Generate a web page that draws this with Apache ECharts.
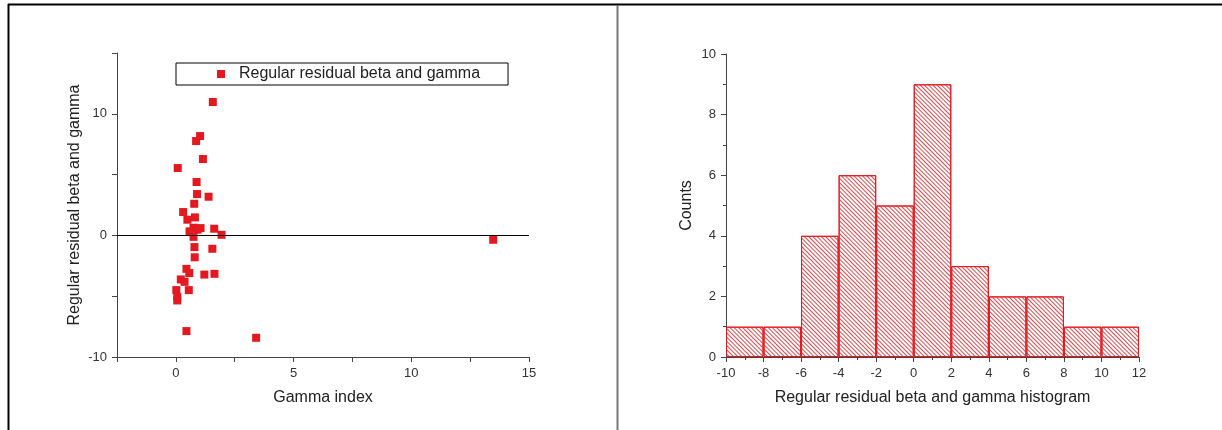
<!DOCTYPE html>
<html>
<head>
<meta charset="utf-8">
<title>Regular residual beta and gamma</title>
<script src="https://cdn.jsdelivr.net/npm/echarts@6/dist/echarts.min.js"></script>
<style>
html, body { margin : 0; padding : 0; background : #fff; }
#chart { width : 1222px; height : 430px; }
</style>
</head>
<body>
<div id="chart"></div>
<script>
// scatter: gamma index vs regular residual
var gammaIndex = [ 1.57, 1.03, 0.86, 1.15, 0.08, 0.88, 0.90, 1.39, 0.78, 0.31,
		0.81, 0.49, 0.75, 1.05, 0.92, 0.58, 1.63, 1.94, 0.75, 0.79, 1.55, 0.80,
		0.45, 0.57, 1.21, 1.64, 0.21, 0.37, 0.55, 0.02, 0.06, 0.06, 0.45, 3.41,
		13.48 ];
var residual = [ 10.97, 8.17, 7.76, 6.28, 5.54, 4.39, 3.40, 3.18, 2.60, 1.92,
		1.48, 1.29, 0.63, 0.60, 0.47, 0.33, 0.55, 0.05, -0.12, -0.96, -1.10,
		-1.80, -2.75, -3.10, -3.22, -3.16, -3.62, -3.82, -4.50, -4.50, -5.05,
		-5.35, -7.87, -8.42, -0.36 ];

// histogram bins (width 2, from -10 to 12)
var binNames = [ '-10~-8', '-8~-6', '-6~-4', '-4~-2', '-2~0', '0~2', '2~4',
		'4~6', '6~8', '8~10', '10~12' ];
var binCounts = [ 1, 1, 4, 6, 5, 9, 3, 2, 2, 1, 1 ];

var seriesName = 'Regular residual beta and gamma';
var red = '#e3191f';
var font = 'Liberation Sans, Arial, sans-serif';

var points = gammaIndex.map(function(x, i) {
	return [ x, residual[i] ];
});

function axisBase() {
	return {
		axisLine : {
			onZero : false,
			lineStyle : {
				color : '#444',
				width : 1
			}
		},
		axisTick : {
			length : 5,
			lineStyle : {
				color : '#444'
			}
		},
		splitLine : {
			show : false
		},
		axisLabel : {
			color : '#333',
			fontSize : 13,
			fontFamily : font,
			margin : 10
		},
		nameLocation : 'middle',
		nameTextStyle : {
			color : '#222',
			fontSize : 16,
			fontFamily : font
		}
	};
}

var xScatter = axisBase();
xScatter.gridIndex = 0;
xScatter.type = 'value';
xScatter.min = -2.5;
xScatter.max = 15;
xScatter.interval = 2.5;
xScatter.name = 'Gamma index';
xScatter.nameGap = 33;
xScatter.axisLabel.formatter = function(v) {
	return v % 5 === 0 ? String(v) : '';
};

var yScatter = axisBase();
yScatter.gridIndex = 0;
yScatter.type = 'value';
yScatter.min = -10;
yScatter.max = 15;
yScatter.interval = 5;
yScatter.name = seriesName;
yScatter.nameGap = 34;
yScatter.axisLabel.formatter = function(v) {
	return v % 10 === 0 ? String(v) : '';
};

var xHist = axisBase();
xHist.gridIndex = 1;
xHist.type = 'value';
xHist.min = -10;
xHist.max = 12;
xHist.interval = 2;
xHist.name = 'Regular residual beta and gamma histogram';
xHist.nameGap = 33;
xHist.minorTick = {
	show : true,
	splitNumber : 2,
	length : 3,
	lineStyle : {
		color : '#444'
	}
};

var yHist = axisBase();
yHist.gridIndex = 1;
yHist.type = 'value';
yHist.min = 0;
yHist.max = 10;
yHist.interval = 2;
yHist.name = 'Counts';
yHist.nameGap = 31;
yHist.minorTick = {
	show : true,
	splitNumber : 2,
	length : 3,
	lineStyle : {
		color : '#444'
	}
};

var option = {
	animation : false,
	backgroundColor : '#fff',
	textStyle : {
		fontFamily : font
	},
	graphic : [ {
		type : 'line',
		shape : { x1 : 8, y1 : 4.5, x2 : 1222, y2 : 4.5 },
		style : { stroke : '#000', lineWidth : 2 },
		silent : true
	}, {
		type : 'line',
		shape : { x1 : 8.5, y1 : 4, x2 : 8.5, y2 : 430 },
		style : { stroke : '#000', lineWidth : 2 },
		silent : true
	}, {
		type : 'line',
		shape : { x1 : 617.5, y1 : 5, x2 : 617.5, y2 : 430 },
		style : { stroke : '#777', lineWidth : 2 },
		silent : true
	} ],
	legend : {
		data : [ {
			name : seriesName,
			icon : 'rect'
		} ],
		left : 176,
		top : 63,
		orient : 'horizontal',
		selectedMode : false,
		borderColor : '#000',
		borderWidth : 1,
		padding : [ 3, 28, 3, 41 ],
		itemWidth : 8,
		itemHeight : 8,
		textStyle : {
			color : '#222',
			fontSize : 16,
			fontFamily : font,
			padding : [ 0, 0, 0, 9 ]
		}
	},
	grid : [ {
		left : 117,
		top : 53,
		width : 412,
		height : 304
	}, {
		left : 726,
		top : 54,
		width : 413,
		height : 303
	} ],
	xAxis : [ xScatter, xHist, {
		gridIndex : 1,
		type : 'category',
		show : false,
		boundaryGap : true,
		data : binNames
	} ],
	yAxis : [ yScatter, yHist ],
	series : [ {
		name : seriesName,
		type : 'scatter',
		xAxisIndex : 0,
		yAxisIndex : 0,
		symbol : 'rect',
		symbolSize : 8,
		itemStyle : {
			color : red,
			opacity : 1
		},
		markLine : {
			silent : true,
			symbol : [ 'none', 'none' ],
			label : {
				show : false
			},
			lineStyle : {
				color : '#000',
				type : 'solid',
				width : 1
			},
			data : [ {
				yAxis : 0
			} ]
		},
		data : points
	}, {
		name : 'histogram',
		type : 'bar',
		xAxisIndex : 2,
		yAxisIndex : 1,
		barCategoryGap : '0%',
		itemStyle : {
			color : '#fff',
			borderColor : red,
			borderWidth : 1,
			decal : {
				symbol : 'rect',
				symbolSize : 1,
				color : '#dc4a4e',
				dashArrayX : [ 1, 0 ],
				dashArrayY : [ 1, 2 ],
				rotation : Math.PI / 4
			}
		},
		data : binCounts
	} ]
};

var chart = echarts.init(document.getElementById('chart'));
chart.setOption(option);
</script>
</body>
</html>
